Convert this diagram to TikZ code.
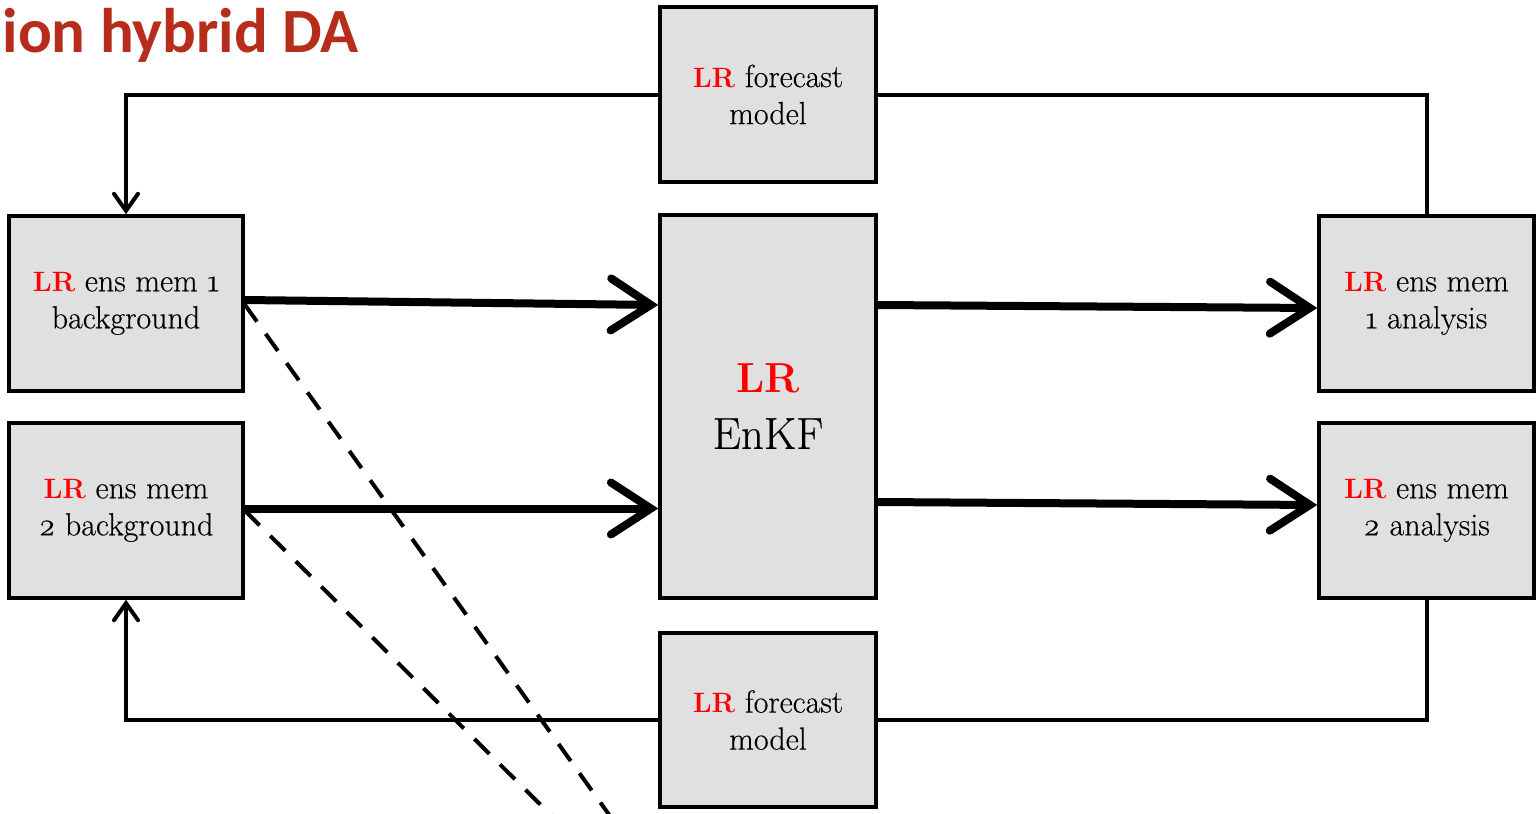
\documentclass[tikz,border=0pt]{standalone}
\usepackage{fontspec}
\setmainfont{Latin Modern Roman}[FakeBold=0.35]
\newfontfamily\titlefont{Carlito}
\newfontfamily\lrfont{Latin Modern Roman}
\usetikzlibrary{arrows.meta}
\definecolor{boxgray}{RGB}{224,224,224}
\definecolor{titlered}{RGB}{183,44,26}
\definecolor{lrred}{RGB}{255,0,0}
\newcommand{\LR}{{\lrfont\fontsize{14}{14}\selectfont\textcolor{lrred}{\textbf{LR}}}}
\newcommand{\osn}[1]{{\addfontfeature{Numbers=OldStyle}#1}}
\tikzset{
  blk/.style={draw=black, line width=1.75pt, fill=boxgray, align=center,
    inner sep=0pt, font=\fontsize{16}{18.5}\selectfont},
  loopline/.style={line width=2pt},
  thinhead/.style={-{Straight Barb[length=8.5pt,width=12pt,line cap=round]}},
  thickarrow/.style={line width=4pt,
    -{Straight Barb[length=20pt,width=26pt,line cap=round]}},
  dashline/.style={line width=2pt, dash pattern=on 10.5pt off 7.5pt}
}
\begin{document}
\begin{tikzpicture}[x=0.5pt,y=-0.5pt]
  \fill[white] (0,0) rectangle (1538,814);
  \useasboundingbox (0,0) rectangle (1538,814);

  % title fragment
  \node[anchor=base east, inner sep=0pt, text=titlered,
        font=\titlefont\bfseries\fontsize{31.5}{36}\selectfont]
        (title) at (359,52) {ion hybrid DA};

  % boxes
  \node[blk, minimum width=108pt, minimum height=87.5pt] (topfc) at (768,94.5)
        {\LR{} forecast\\model};
  \node[blk, minimum width=108pt, minimum height=87pt] (botfc) at (768,720)
        {\LR{} forecast\\model};
  \node[blk, minimum width=108pt, minimum height=191.5pt,
        font=\fontsize{22.5}{28}\selectfont] (enkf) at (768,406.5)
        {{\lrfont\fontsize{21}{21}\selectfont\textcolor{lrred}{\textbf{LR}}}\\EnKF};
  \node[blk, minimum width=117pt, minimum height=87.5pt] (bg1) at (126,303.5)
        {\LR{} ens mem \osn{1}\\background};
  \node[blk, minimum width=117pt, minimum height=87.5pt] (bg2) at (126,510.5)
        {\LR{} ens mem\\\osn{2} background};
  \node[blk, minimum width=107.5pt, minimum height=87.5pt] (an1) at (1426.5,303.5)
        {\LR{} ens mem\\\osn{1} analysis};
  \node[blk, minimum width=107.5pt, minimum height=87.5pt] (an2) at (1426.5,510.5)
        {\LR{} ens mem\\\osn{2} analysis};

  % dashed guide lines, beneath the arrows
  \coordinate (d1) at (620,830);
  \coordinate (d2) at (570,834);
  \draw[dashline] ([yshift=-0.5pt]bg1.east) -- (d1);
  \draw[dashline] (bg2.east) -- (d2);

  % forecast loops
  \draw[loopline, thinhead] (topfc.west) -| (bg1.north);
  \draw[loopline] (topfc.east) -| (an1.north);
  \draw[loopline, thinhead] (botfc.west) -| (bg2.south);
  \draw[loopline] (botfc.east) -| (an2.south);

  % ensemble members into and out of the filter
  \draw[thickarrow] ([yshift=1.75pt]bg1.east) -- ([yshift=-0.75pt]enkf.west |- bg1.east);
  \draw[thickarrow] ([yshift=1pt]bg2.east) -- ([yshift=1pt]enkf.west |- bg2.east);
  \draw[thickarrow] ([yshift=-0.75pt]enkf.east |- an1.west) -- ([yshift=-2.25pt]an1.west);
  \draw[thickarrow] ([yshift=4.25pt]enkf.east |- an2.west) -- ([yshift=2.75pt]an2.west);
\end{tikzpicture}
\end{document}
